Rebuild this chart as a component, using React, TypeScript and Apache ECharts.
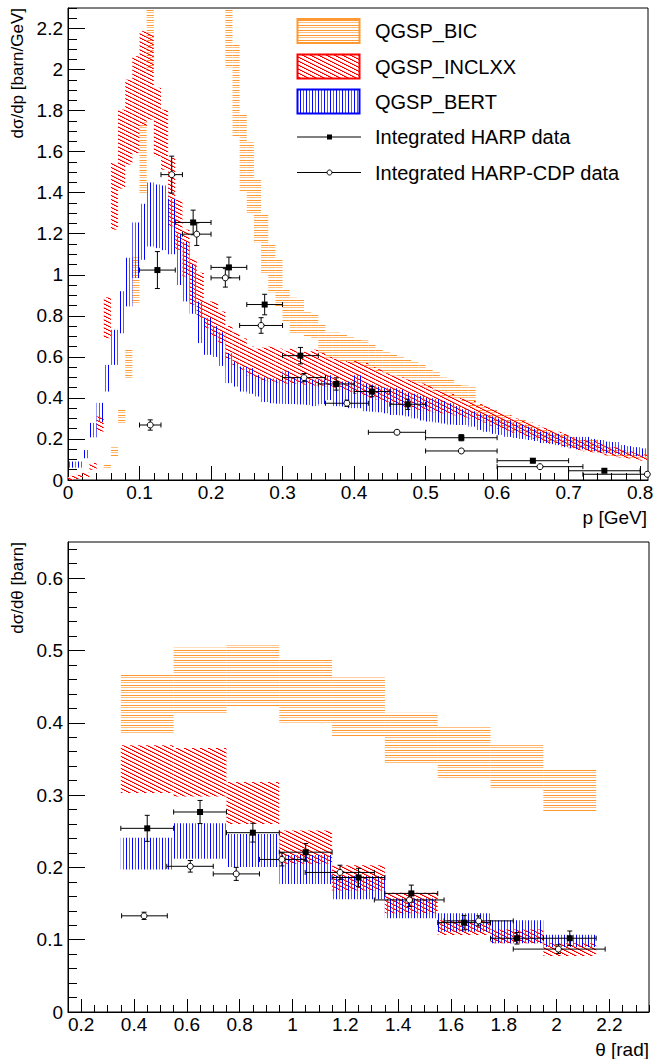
import React, { useEffect, useRef } from "react";
import * as echarts from "echarts";

const FONT = "'Liberation Sans', Arial, Helvetica, sans-serif";

// ---------------- Top panel: dσ/dp versus p, model bands in 0.01 GeV bins starting at p = 0
const P_BIN_WIDTH = 0.01;
// null = no band drawn in that bin (empty, or entirely above the frame)
const BIC_P_LO = [null, null, null, null, null, 0.052, 0.114, 0.27, 0.49, 0.862,
  1.39, 1.99, null, null, null, null, null, null, null, null,
  null, null, 2.01, 1.675, 1.407, 1.30, 1.158, 1.005, 0.914, 0.846,
  0.77, 0.715, 0.715, 0.699, 0.683, 0.618, 0.593, 0.593, 0.58, 0.57,
  0.565, 0.55, 0.545, 0.53, 0.52, 0.51, 0.50, 0.49, 0.475, 0.46,
  0.45, 0.43, 0.41, 0.40, 0.39, 0.385, 0.36, 0.30, 0.29, 0.275,
  0.26, 0.25, 0.24, 0.23, 0.22, 0.205, 0.195, 0.185, 0.175, 0.165,
  0.155, 0.15, 0.145, 0.14, 0.13, 0.12, 0.115, 0.11, 0.105, 0.10,
  0.098];
const BIC_P_HI = [null, null, null, null, null, 0.078, 0.163, 0.35, 0.634, 1.09,
  1.748, 2.5, null, null, null, null, null, null, null, null,
  null, null, 2.5, 2.13, 1.78, 1.65, 1.463, 1.293, 1.15, 1.076,
  0.93, 0.889, 0.881, 0.821, 0.813, 0.756, 0.719, 0.719, 0.715, 0.70,
  0.69, 0.68, 0.665, 0.64, 0.625, 0.61, 0.60, 0.59, 0.575, 0.56,
  0.545, 0.53, 0.50, 0.49, 0.465, 0.46, 0.455, 0.375, 0.36, 0.345,
  0.325, 0.315, 0.30, 0.295, 0.28, 0.26, 0.245, 0.24, 0.23, 0.22,
  0.21, 0.205, 0.20, 0.195, 0.18, 0.165, 0.16, 0.15, 0.14, 0.13,
  0.12];
const INCLXX_P_LO = [0, 0.005, 0.015, 0.05, 0.236, 0.691, 1.22, 1.42, 1.537, 1.593,
  1.724, 1.756, 1.577, 1.512, 1.236, 1.122, 0.992, 0.854, 0.79, 0.74,
  0.70, 0.667, 0.59, 0.56, 0.537, 0.51, 0.495, 0.485, 0.48, 0.475,
  0.47, 0.47, 0.47, 0.465, 0.46, 0.46, 0.455, 0.45, 0.44, 0.43,
  0.42, 0.41, 0.40, 0.39, 0.38, 0.37, 0.36, 0.355, 0.345, 0.34,
  0.335, 0.33, 0.325, 0.32, 0.315, 0.305, 0.30, 0.29, 0.28, 0.265,
  0.25, 0.24, 0.23, 0.22, 0.21, 0.20, 0.19, 0.18, 0.175, 0.165,
  0.155, 0.145, 0.14, 0.135, 0.13, 0.12, 0.115, 0.11, 0.105, 0.10,
  0.095];
const INCLXX_P_HI = [0.02, 0.025, 0.035, 0.083, 0.31, 0.89, 1.545, 1.805, 1.951, 2.065,
  2.187, 2.179, 1.911, 1.805, 1.569, 1.366, 1.22, 1.078, 1.01, 0.87,
  0.87, 0.821, 0.75, 0.72, 0.69, 0.65, 0.64, 0.645, 0.65, 0.64,
  0.63, 0.64, 0.62, 0.625, 0.635, 0.62, 0.60, 0.59, 0.58, 0.575,
  0.58, 0.57, 0.55, 0.54, 0.52, 0.51, 0.50, 0.49, 0.48, 0.47,
  0.46, 0.44, 0.43, 0.42, 0.40, 0.395, 0.385, 0.37, 0.36, 0.345,
  0.33, 0.315, 0.30, 0.29, 0.28, 0.265, 0.255, 0.245, 0.235, 0.225,
  0.21, 0.20, 0.195, 0.19, 0.18, 0.165, 0.16, 0.15, 0.14, 0.13,
  0.125];
const BERT_P_LO = [0.06, 0.06, 0.106, 0.208, 0.283, 0.431, 0.561, 0.715, 0.846, 0.984,
  1.073, 1.138, 1.13, 1.12, 1.10, 0.95, 0.87, 0.81, 0.667, 0.61,
  0.60, 0.556, 0.472, 0.455, 0.431, 0.42, 0.407, 0.38, 0.374, 0.372,
  0.37, 0.37, 0.368, 0.366, 0.36, 0.37, 0.39, 0.36, 0.358, 0.35,
  0.35, 0.335, 0.333, 0.33, 0.325, 0.317, 0.315, 0.31, 0.30, 0.29,
  0.285, 0.28, 0.275, 0.27, 0.268, 0.268, 0.26, 0.244, 0.235, 0.225,
  0.22, 0.21, 0.205, 0.20, 0.195, 0.19, 0.18, 0.175, 0.17, 0.16,
  0.155, 0.15, 0.146, 0.14, 0.135, 0.13, 0.128, 0.122, 0.12, 0.116,
  0.114];
const BERT_P_HI = [0.09, 0.09, 0.146, 0.278, 0.376, 0.561, 0.732, 0.92, 1.083, 1.255,
  1.346, 1.45, 1.44, 1.435, 1.37, 1.20, 1.16, 1.05, 0.87, 0.79,
  0.75, 0.72, 0.618, 0.577, 0.553, 0.545, 0.512, 0.50, 0.495, 0.49,
  0.53, 0.50, 0.50, 0.49, 0.49, 0.49, 0.51, 0.48, 0.48, 0.48,
  0.51, 0.47, 0.465, 0.455, 0.45, 0.447, 0.44, 0.425, 0.42, 0.41,
  0.40, 0.395, 0.385, 0.374, 0.36, 0.345, 0.335, 0.325, 0.318, 0.31,
  0.30, 0.29, 0.28, 0.27, 0.26, 0.25, 0.236, 0.23, 0.225, 0.215,
  0.21, 0.21, 0.21, 0.20, 0.195, 0.187, 0.185, 0.17, 0.165, 0.16,
  0.154];

// Integrated HARP data (top)
const HARP_P_X = [0.125, 0.175, 0.225, 0.275, 0.325, 0.375, 0.425, 0.475, 0.55, 0.65, 0.75];
const HARP_P_XERR = [0.025, 0.025, 0.025, 0.025, 0.025, 0.025, 0.025, 0.025, 0.05, 0.05, 0.05];
const HARP_P_Y = [1.023, 1.255, 1.036, 0.855, 0.606, 0.468, 0.431, 0.369, 0.206, 0.094, 0.045];
const HARP_P_YERR = [0.09, 0.06, 0.05, 0.05, 0.04, 0.03, 0.025, 0.025, 0.015, 0.01, 0.007];
// Integrated HARP-CDP data (top)
const CDP_P_X = [0.115, 0.145, 0.18, 0.22, 0.27, 0.33, 0.39, 0.46, 0.55, 0.66, 0.81];
const CDP_P_XLO = [0.10, 0.13, 0.16, 0.20, 0.24, 0.30, 0.36, 0.42, 0.50, 0.60, 0.72];
const CDP_P_XHI = [0.13, 0.16, 0.20, 0.24, 0.30, 0.36, 0.42, 0.50, 0.60, 0.72, 0.90];
const CDP_P_Y = [0.268, 1.488, 1.198, 0.985, 0.753, 0.499, 0.374, 0.2325, 0.1415, 0.065, 0.028];
const CDP_P_YERR = [0.025, 0.09, 0.055, 0.045, 0.038, 0.02, 0.015, 0.01, 0.008, 0.005, 0.004];

// ---------------- Bottom panel: dσ/dθ versus θ
const THETA_EDGES = [0.35, 0.55, 0.75, 0.95, 1.15, 1.35, 1.55, 1.75, 1.95, 2.15];
const BIC_T_LO = [0.385, 0.413, 0.422, 0.400, 0.381, 0.343, 0.323, 0.307, 0.278];
const BIC_T_HI = [0.467, 0.504, 0.507, 0.488, 0.463, 0.414, 0.394, 0.369, 0.337];
const INCLXX_T_LO = [0.303, 0.298, 0.260, 0.205, 0.168, 0.1365, 0.1065, 0.095, 0.0775];
const INCLXX_T_HI = [0.369, 0.365, 0.318, 0.251, 0.203, 0.165, 0.127, 0.114, 0.095];
const BERT_T_LO = [0.197, 0.212, 0.2005, 0.177, 0.156, 0.1296, 0.111, 0.095, 0.090];
const BERT_T_HI = [0.241, 0.261, 0.246, 0.217, 0.188, 0.157, 0.1365, 0.127, 0.107];

const HARP_T_X = [0.45, 0.65, 0.85, 1.05, 1.25, 1.45, 1.65, 1.85, 2.05];
const HARP_T_XERR = [0.1, 0.1, 0.1, 0.1, 0.1, 0.1, 0.1, 0.1, 0.1];
const HARP_T_Y = [0.254, 0.2766, 0.248, 0.221, 0.186, 0.164, 0.1236, 0.102, 0.102];
const HARP_T_YERR = [0.018, 0.016, 0.013, 0.012, 0.0127, 0.0115, 0.01, 0.008, 0.01];
const CDP_T_X = [0.438, 0.613, 0.787, 0.96, 1.18, 1.443, 1.705, 2.007];
const CDP_T_XLO = [0.353, 0.524, 0.70, 0.875, 1.048, 1.31, 1.574, 1.836];
const CDP_T_XHI = [0.526, 0.70, 0.875, 1.048, 1.31, 1.574, 1.836, 2.184];
const CDP_T_Y = [0.133, 0.2015, 0.191, 0.211, 0.193, 0.155, 0.126, 0.087];
const CDP_T_YERR = [0.005, 0.008, 0.009, 0.009, 0.01, 0.009, 0.007, 0.006];

// ---------------- Axes
const P_LABELS = [0, 0.1, 0.2, 0.3, 0.4, 0.5, 0.6, 0.7, 0.8];
const P_MINOR_STEP = 0.02;
const YP_LABELS = [0, 0.2, 0.4, 0.6, 0.8, 1, 1.2, 1.4, 1.6, 1.8, 2, 2.2];
const YP_MINOR_STEP = 0.05;
const T_LABELS = [0.2, 0.4, 0.6, 0.8, 1, 1.2, 1.4, 1.6, 1.8, 2, 2.2];
const T_MINOR_STEP = 0.05;
const YT_LABELS = [0, 0.1, 0.2, 0.3, 0.4, 0.5, 0.6];
const YT_MINOR_STEP = 0.02;

const LEGEND_LABELS = ["QGSP_BIC", "QGSP_INCLXX", "QGSP_BERT", "Integrated HARP data", "Integrated HARP-CDP data"];

const ORANGE = "#ff9933";
const RED = "#ff0000";
const BLUE = "#0000ff";

function minorTicks(min: number, max: number, step: number) {
  const out: number[] = [];
  const k0 = Math.ceil(min / step - 1e-6);
  for (let k = k0; k * step <= max + 1e-9; k++) out.push(Math.round(k * step * 1000) / 1000);
  return out;
}

function makePattern(w: number, h: number, paint: (x: number, y: number) => string | null) {
  const c = document.createElement("canvas");
  c.width = w;
  c.height = h;
  const ctx = c.getContext("2d")!;
  for (let y = 0; y < h; y++) {
    for (let x = 0; x < w; x++) {
      const col = paint(x, y);
      if (col) {
        ctx.fillStyle = col;
        ctx.fillRect(x, y, 1, 1);
      }
    }
  }
  return { image: c, repeat: "repeat" } as any;
}

export default function App() {
  const ref = useRef<HTMLDivElement>(null);
  useEffect(() => {
    if (!ref.current) return;
    const chart = echarts.init(ref.current, null, { renderer: "svg" });

    const patOrange = makePattern(4, 5, (x, y) => (y === 0 ? ORANGE : y === 2 ? "#ffbf80" : null));
    const patRed = makePattern(8, 4, (x, y) => {
      const m = (((x - 2 * y) % 8) + 8) % 8;
      return m < 2 ? RED : m === 2 ? "#ff9a9a" : null;
    });
    const patBlue = makePattern(6, 4, (x) => (x === 0 ? BLUE : x === 3 ? "#5a5aff" : null));

    const bandRender = (fill: any) => (params: any, api: any) => {
      const a = api.coord([api.value(0), api.value(3)]);
      const b = api.coord([api.value(1), api.value(2)]);
      const cs = params.coordSys;
      const r = echarts.graphic.clipRectByRect(
        { x: a[0], y: a[1], width: b[0] - a[0], height: b[1] - a[1] },
        { x: cs.x, y: cs.y, width: cs.width, height: cs.height }
      );
      if (!r) return null;
      return { type: "rect", shape: r, style: { fill } };
    };

    const errRender = (params: any, api: any) => {
      const c = api.coord([api.value(0), api.value(1)]);
      const l = api.coord([api.value(2), api.value(1)]);
      const r = api.coord([api.value(3), api.value(1)]);
      const t = api.coord([api.value(0), api.value(5)]);
      const b = api.coord([api.value(0), api.value(4)]);
      const style = { stroke: "#000", lineWidth: 1 };
      const cap = 2.5;
      const ln = (x1: number, y1: number, x2: number, y2: number) => ({ type: "line", shape: { x1, y1, x2, y2 }, style });
      return {
        type: "group",
        children: [
          ln(l[0], c[1], r[0], c[1]),
          ln(c[0], t[1], c[0], b[1]),
          ln(l[0], c[1] - cap, l[0], c[1] + cap),
          ln(r[0], c[1] - cap, r[0], c[1] + cap),
          ln(c[0] - cap, t[1], c[0] + cap, t[1]),
          ln(c[0] - cap, b[1], c[0] + cap, b[1]),
        ],
      };
    };

    const pBand = (lo: (number | null)[], hi: (number | null)[]) =>
      lo
        .map((v, i) => (v == null || hi[i] == null ? null : [i * P_BIN_WIDTH, (i + 1) * P_BIN_WIDTH, v, hi[i]]))
        .filter((d) => d !== null);
    const tBand = (lo: number[], hi: number[]) => lo.map((v, i) => [THETA_EDGES[i], THETA_EDGES[i + 1], v, hi[i]]);

    const bandSeries = (data: any[], fill: any, xi: number, yi: number, z: number) => ({
      type: "custom",
      xAxisIndex: xi,
      yAxisIndex: yi,
      renderItem: bandRender(fill),
      data,
      encode: { x: [0, 1], y: [2, 3] },
      clip: true,
      silent: true,
      z,
    });
    const errSeries = (data: any[], xi: number, yi: number) => ({
      type: "custom",
      xAxisIndex: xi,
      yAxisIndex: yi,
      renderItem: errRender,
      data,
      encode: { x: [0, 2, 3], y: [1, 4, 5] },
      clip: true,
      silent: true,
      z: 10,
    });
    const markSeries = (data: any[], xi: number, yi: number, open: boolean) => ({
      type: "scatter",
      xAxisIndex: xi,
      yAxisIndex: yi,
      data,
      symbol: open ? "circle" : "rect",
      symbolSize: 6,
      itemStyle: open ? { color: "#fff", borderColor: "#000", borderWidth: 1, opacity: 1 } : { color: "#000", opacity: 1 },
      clip: true,
      silent: true,
      z: 11,
    });

    const harpP = HARP_P_X.map((x, i) => [x, HARP_P_Y[i], x - HARP_P_XERR[i], x + HARP_P_XERR[i], HARP_P_Y[i] - HARP_P_YERR[i], HARP_P_Y[i] + HARP_P_YERR[i]]);
    const cdpP = CDP_P_X.map((x, i) => [x, CDP_P_Y[i], CDP_P_XLO[i], CDP_P_XHI[i], CDP_P_Y[i] - CDP_P_YERR[i], CDP_P_Y[i] + CDP_P_YERR[i]]);
    const harpT = HARP_T_X.map((x, i) => [x, HARP_T_Y[i], x - HARP_T_XERR[i], x + HARP_T_XERR[i], HARP_T_Y[i] - HARP_T_YERR[i], HARP_T_Y[i] + HARP_T_YERR[i]]);
    const cdpT = CDP_T_X.map((x, i) => [x, CDP_T_Y[i], CDP_T_XLO[i], CDP_T_XHI[i], CDP_T_Y[i] - CDP_T_YERR[i], CDP_T_Y[i] + CDP_T_YERR[i]]);

    const P_MAX = 0.811, YP_MAX = 2.3, T_MIN = 0.15, T_MAX = 2.35, YT_MAX = 0.65;

    const labelStyle = { color: "#000", fontSize: 19, fontFamily: FONT };
    const mkAxis = (gridIndex: number, min: number, max: number, labels: number[], len: number, isX: boolean, margin: number) => ({
      gridIndex,
      type: "value",
      min,
      max,
      position: isX ? "bottom" : "left",
      axisLine: { show: true, onZero: false, lineStyle: { color: "#000", width: 1 } },
      axisTick: { show: true, inside: true, length: len, customValues: labels, lineStyle: { color: "#000", width: 1 } },
      axisLabel: { show: true, customValues: labels, margin, ...labelStyle },
      splitLine: { show: false },
      minorTick: { show: false },
    });
    const mkMinor = (gridIndex: number, min: number, max: number, ticks: number[], len: number, isX: boolean) => ({
      gridIndex,
      type: "value",
      min,
      max,
      position: isX ? "bottom" : "left",
      axisLine: { show: false, onZero: false },
      axisTick: { show: true, inside: true, length: len, customValues: ticks, lineStyle: { color: "#000", width: 1 } },
      axisLabel: { show: false },
      splitLine: { show: false },
    });

    const legendRows = [31, 66.5, 101.5, 137, 172.5];
    const legendGraphics: any[] = [];
    const boxFills = [patOrange, patRed, patBlue];
    const boxStrokes = [ORANGE, RED, BLUE];
    for (let i = 0; i < 3; i++) {
      legendGraphics.push({
        type: "rect",
        shape: { x: 297.5, y: legendRows[i] - 12, width: 62, height: 24 },
        style: { fill: boxFills[i], stroke: boxStrokes[i], lineWidth: 2 },
      });
    }
    for (let i = 3; i < 5; i++) {
      legendGraphics.push({
        type: "line",
        shape: { x1: 297, y1: legendRows[i], x2: 361, y2: legendRows[i] },
        style: { stroke: "#000", lineWidth: 1 },
      });
    }
    legendGraphics.push({ type: "rect", shape: { x: 327, y: legendRows[3] - 2.5, width: 5, height: 5 }, style: { fill: "#000" } });
    legendGraphics.push({ type: "circle", shape: { cx: 329.5, cy: legendRows[4], r: 2.5 }, style: { fill: "#fff", stroke: "#000", lineWidth: 1 } });
    LEGEND_LABELS.forEach((t, i) => {
      legendGraphics.push({
        type: "text",
        x: 375,
        y: legendRows[i],
        style: { text: t, fontSize: 20, fontFamily: FONT, fill: "#000", align: "left", verticalAlign: "middle" },
      });
    });

    const titles: any[] = [
      { type: "text", x: 647, y: 517, style: { text: "p [GeV]", fontSize: 19, fontFamily: FONT, fill: "#000", align: "right", verticalAlign: "middle" } },
      { type: "text", x: 649, y: 1049, style: { text: "θ [rad]", fontSize: 19, fontFamily: FONT, fill: "#000", align: "right", verticalAlign: "middle" } },
      { type: "text", x: 17, y: 8, rotation: Math.PI / 2, style: { text: "dσ/dp [barn/GeV]", fontSize: 17, fontFamily: FONT, fill: "#000", align: "right", verticalAlign: "middle" } },
      { type: "text", x: 17, y: 542, rotation: Math.PI / 2, style: { text: "dσ/dθ [barn]", fontSize: 17, fontFamily: FONT, fill: "#000", align: "right", verticalAlign: "middle" } },
    ];

    const option: any = {
      animation: false,
      backgroundColor: "#fff",
      textStyle: { fontFamily: FONT },
      grid: [
        { left: 68, top: 8, width: 580, height: 472, show: true, borderColor: "#000", borderWidth: 1, backgroundColor: "rgba(0,0,0,0)", containLabel: false, outerBoundsMode: "none" },
        { left: 68, top: 542, width: 581, height: 470, show: true, borderColor: "#000", borderWidth: 1, backgroundColor: "rgba(0,0,0,0)", containLabel: false, outerBoundsMode: "none" },
      ],
      xAxis: [
        mkAxis(0, 0, P_MAX, P_LABELS, 14, true, 3),
        mkMinor(0, 0, P_MAX, minorTicks(0, P_MAX, P_MINOR_STEP), 7, true),
        mkAxis(1, T_MIN, T_MAX, T_LABELS, 13, true, 3),
        mkMinor(1, T_MIN, T_MAX, minorTicks(T_MIN, T_MAX, T_MINOR_STEP), 7, true),
      ],
      yAxis: [
        mkAxis(0, 0, YP_MAX, YP_LABELS, 17, false, 5),
        mkMinor(0, 0, YP_MAX, minorTicks(0, YP_MAX, YP_MINOR_STEP), 9, false),
        mkAxis(1, 0, YT_MAX, YT_LABELS, 17, false, 5),
        mkMinor(1, 0, YT_MAX, minorTicks(0, YT_MAX, YT_MINOR_STEP), 9, false),
      ],
      graphic: [...legendGraphics, ...titles],
      series: [
        bandSeries(pBand(BIC_P_LO, BIC_P_HI), patOrange, 0, 0, 2),
        bandSeries(pBand(INCLXX_P_LO, INCLXX_P_HI), patRed, 0, 0, 3),
        bandSeries(pBand(BERT_P_LO, BERT_P_HI), patBlue, 0, 0, 4),
        errSeries(harpP, 0, 0),
        errSeries(cdpP, 0, 0),
        markSeries(HARP_P_X.map((x, i) => [x, HARP_P_Y[i]]), 0, 0, false),
        markSeries(CDP_P_X.map((x, i) => [x, CDP_P_Y[i]]), 0, 0, true),
        bandSeries(tBand(BIC_T_LO, BIC_T_HI), patOrange, 2, 2, 2),
        bandSeries(tBand(INCLXX_T_LO, INCLXX_T_HI), patRed, 2, 2, 3),
        bandSeries(tBand(BERT_T_LO, BERT_T_HI), patBlue, 2, 2, 4),
        errSeries(harpT, 2, 2),
        errSeries(cdpT, 2, 2),
        markSeries(HARP_T_X.map((x, i) => [x, HARP_T_Y[i]]), 2, 2, false),
        markSeries(CDP_T_X.map((x, i) => [x, CDP_T_Y[i]]), 2, 2, true),
      ],
    };
    chart.setOption(option);
    return () => chart.dispose();
  }, []);
  return <div ref={ref} style={{ position: "absolute", left: 0, top: 0, width: 653, height: 1059, background: "#fff" }} />;
}
